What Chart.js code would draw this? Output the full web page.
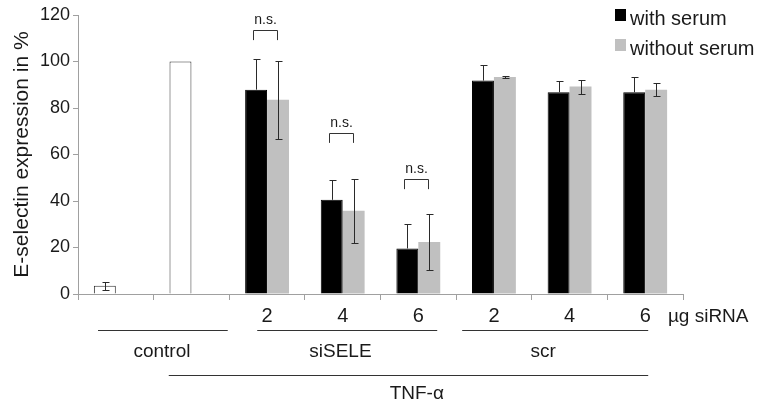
<!DOCTYPE html>
<html>
<head>
<meta charset="utf-8">
<script src="https://cdn.jsdelivr.net/npm/chart.js@4/dist/chart.umd.min.js"></script>
<style>
  html, body { margin: 0; padding: 0; background: #fff; }
  #c { display: block; }
</style>
</head>
<body>
<canvas id="c" width="761" height="408"></canvas>
<script>
// ---- data ----
const categories = ['control', 'TNF-α', 'siSELE 2', 'siSELE 4', 'siSELE 6', 'scr 2', 'scr 4', 'scr 6'];
const tickLabels = ['', '', '2', '4', '6', '2', '4', '6'];
const withSerum = [3.5, 100, 87.9, 40.5, 19.6, 91.8, 86.8, 86.8];
const withSerumErr = [1.6, 0, 13, 8.5, 10.5, 6.6, 5, 6.6];
const withoutSerum = [null, null, 83.5, 35.8, 22.4, 93.3, 89.2, 87.8];
const withoutSerumErr = [null, null, 16.7, 13.8, 12, 0.6, 3, 2.8];
const seriesNames = ['with serum', 'without serum'];
const nsCategories = [2, 3, 4];
const nsLevels = [113.5, 69.3, 49.4];
const nsText = 'n.s.';
const yTicks = [0, 20, 40, 60, 80, 100, 120];
const yTitle = 'E-selectin expression in %';
const unitLabel = 'µg siRNA';

// ---- layout of group annotations (category-index units) ----
const groupLayout = [
  { text: 'control', from: -0.235, to: 1.48, at: 0.61, row: 0 },
  { text: 'siSELE', from: 1.87, to: 4.25, at: 2.97, row: 0 },
  { text: 'scr', from: 4.58, to: 7.04, at: 5.65, row: 0 },
  { text: 'TNF-α', from: 0.70, to: 7.04, at: 3.98, row: 1 }
];

const black = '#000000';
const gray = '#c0c0c0';
const textColor = '#1a1a1a';
const axisColor = '#a0a0a0';
const FONT = '"Liberation Sans", Arial, sans-serif';

function catX(xs, v) {
  const w = xs.getPixelForValue(1) - xs.getPixelForValue(0);
  return xs.getPixelForValue(0) + v * w;
}

const overlay = {
  id: 'overlay',
  afterDatasetsDraw(chart) {
    const ctx = chart.ctx;
    const ys = chart.scales.y;
    const errs = [withSerumErr, withoutSerumErr];
    const vals = [withSerum, withoutSerum];
    ctx.save();
    // error bars
    ctx.strokeStyle = '#2a2a2a';
    ctx.lineWidth = 1;
    for (let d = 0; d < 2; d++) {
      const meta = chart.getDatasetMeta(d);
      const bg = chart.data.datasets[d].backgroundColor;
      meta.data.forEach((bar, i) => {
        const v = vals[d][i], e = errs[d][i];
        if (v == null || !e) return;
        const fill = Array.isArray(bg) ? bg[i] : bg;
        const hidden = fill === black;
        const x = Math.round(bar.x) + 0.5;
        const yt = Math.round(ys.getPixelForValue(v + e)) + 0.5;
        const yv = ys.getPixelForValue(v);
        const yb = Math.round(ys.getPixelForValue(v - e)) + 0.5;
        ctx.beginPath();
        ctx.moveTo(x, yt); ctx.lineTo(x, hidden ? yv : yb);
        ctx.moveTo(x - 3, yt); ctx.lineTo(x + 4, yt);
        if (!hidden) { ctx.moveTo(x - 3, yb); ctx.lineTo(x + 4, yb); }
        ctx.stroke();
      });
    }
    // n.s. brackets
    const m0 = chart.getDatasetMeta(0), m1 = chart.getDatasetMeta(1);
    ctx.strokeStyle = '#333';
    ctx.fillStyle = textColor;
    ctx.font = '14px ' + FONT;
    ctx.textAlign = 'center';
    ctx.textBaseline = 'alphabetic';
    nsCategories.forEach((c, k) => {
      const x1 = Math.round(m0.data[c].x - 3) + 0.5;
      const x2 = Math.round(m1.data[c].x - 1) + 0.5;
      const yTop = Math.round(ys.getPixelForValue(nsLevels[k])) + 0.5;
      const yLeg = ys.getPixelForValue(nsLevels[k] - 4.3);
      ctx.beginPath();
      ctx.moveTo(x1, yLeg); ctx.lineTo(x1, yTop); ctx.lineTo(x2, yTop); ctx.lineTo(x2, yLeg);
      ctx.stroke();
      ctx.fillText(nsText, (x1 + x2) / 2, yTop - 7);
    });
    ctx.restore();
  },
  afterDraw(chart) {
    const ctx = chart.ctx;
    const xs = chart.scales.x;
    const base = chart.chartArea.bottom;
    ctx.save();
    // group lines and labels
    ctx.strokeStyle = '#333';
    ctx.lineWidth = 1;
    ctx.fillStyle = textColor;
    ctx.font = '19px ' + FONT;
    ctx.textAlign = 'center';
    ctx.textBaseline = 'middle';
    const lineOff = [35.6, 81.3], textOff = [57.3, 99.3];
    groupLayout.forEach(g => {
      const y = Math.round(base + lineOff[g.row]) + 0.5;
      ctx.beginPath();
      ctx.moveTo(catX(xs, g.from), y);
      ctx.lineTo(catX(xs, g.to), y);
      ctx.stroke();
      ctx.fillText(g.text, catX(xs, g.at), base + textOff[g.row]);
    });
    // unit label
    ctx.textAlign = 'left';
    ctx.fillText(unitLabel, catX(xs, 7.3), base + 22.5);
    // legend
    const ds = chart.data.datasets;
    const colors = [black, gray];
    ctx.font = '20px ' + FONT;
    ctx.textBaseline = 'alphabetic';
    seriesNames.forEach((n, i) => {
      const y = 9 + i * 30;
      ctx.fillStyle = colors[i];
      ctx.fillRect(615, y, 11, 12);
      ctx.fillStyle = textColor;
      ctx.fillText(ds[i].label, 630, y + 16);
    });
    ctx.restore();
  }
};

new Chart(document.getElementById('c'), {
  type: 'bar',
  data: {
    labels: tickLabels,
    datasets: [
      {
        label: seriesNames[0],
        data: withSerum,
        backgroundColor: withSerum.map((v, i) => i < 2 ? '#ffffff' : black),
        borderColor: withSerum.map((v, i) => i < 2 ? '#333333' : black),
        borderWidth: 1,
        barPercentage: 1,
        categoryPercentage: 0.58
      },
      {
        label: seriesNames[1],
        data: withoutSerum,
        backgroundColor: gray,
        borderWidth: 0,
        barPercentage: 1,
        categoryPercentage: 0.58
      }
    ]
  },
  options: {
    responsive: false,
    animation: false,
    devicePixelRatio: 1,
    layout: { padding: { top: 15, right: 78, left: 0, bottom: 0 } },
    plugins: { legend: { display: false }, tooltip: { enabled: false }, title: { display: false } },
    scales: {
      x: {
        grid: { offset: true, drawOnChartArea: false, drawTicks: true, tickLength: 6, color: axisColor },
        border: { color: axisColor, width: 1 },
        ticks: { color: textColor, font: { size: 20, family: FONT }, padding: 4, maxRotation: 0, autoSkip: false },
        afterFit: s => { s.height = 114; }
      },
      y: {
        min: 0, max: 120,
        afterBuildTicks: s => { s.ticks = yTicks.map(v => ({ value: v })); },
        grid: { drawOnChartArea: false, drawTicks: true, tickLength: 5, color: axisColor },
        border: { color: axisColor, width: 1 },
        ticks: { color: textColor, font: { size: 18, family: FONT }, padding: 3 },
        title: { display: true, text: yTitle, color: textColor, font: { size: 21, family: FONT }, padding: { top: 10, bottom: 0 } },
        afterFit: s => { s.width = 78; }
      }
    }
  },
  plugins: [overlay]
});
</script>
</body>
</html>
